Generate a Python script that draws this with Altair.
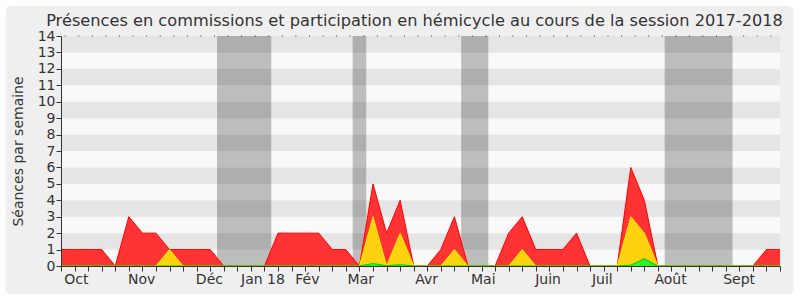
import altair as alt
import pandas as pd

# ---- data -------------------------------------------------------------
weeks = list(range(54))
red = [1, 1, 1, 1, 0, 3, 2, 2, 1, 1, 1, 1, 0, 0, 0, 0, 2, 2, 2, 2, 1, 1, 0, 5, 2, 4, 0,
       0, 1, 3, 0, 0, 0, 2, 3, 1, 1, 1, 2, 0, 0, 0, 6, 4, 0, 0, 0, 0, 0, 0, 0, 0, 1, 1]
yellow = [0, 0, 0, 0, 0, 0, 0, 0, 1, 0, 0, 0, 0, 0, 0, 0, 0, 0, 0, 0, 0, 0, 0, 3, 0, 2, 0,
          0, 0, 1, 0, 0, 0, 0, 1, 0, 0, 0, 0, 0, 0, 0, 3, 2, 0, 0, 0, 0, 0, 0, 0, 0, 0, 0]
green = [0, 0, 0, 0, 0, 0, 0, 0, 0, 0, 0, 0, 0, 0, 0, 0, 0, 0, 0, 0, 0, 0, 0, 0.15, 0.02, 0.08, 0,
         0, 0, 0, 0, 0, 0, 0, 0, 0, 0, 0, 0, 0, 0, 0, 0.05, 0.45, 0, 0, 0, 0, 0, 0, 0, 0, 0, 0]

vac_start = [11.5, 21.5, 29.5, 44.5]
vac_end = [15.5, 22.5, 31.5, 49.5]

month_labels = ["Oct", "Nov", "Déc", "Jan 18", "Fév", "Mar", "Avr", "Mai", "Juin", "Juil", "Août", "Sept"]
month_pos = [1.13, 5.95, 10.94, 14.89, 18.16, 22.1, 26.95, 31.13, 35.9, 39.9, 44.93, 49.99]

y_ticks = list(range(15))

TITLE = "Présences en commissions et participation en hémicycle au cours de la session 2017-2018"
FONT = "DejaVu Sans"

# ---- tables -----------------------------------------------------------
df = pd.DataFrame({"week": weeks, "red": red, "yellow": yellow, "green": green})
bands = pd.DataFrame({"lo": y_ticks[:-1], "hi": y_ticks[1:],
                      "shade": ["a" if k % 2 == 0 else "b" for k in y_ticks[:-1]]})
vac = pd.DataFrame({"s": vac_start, "e": vac_end})
months = pd.DataFrame({"label": month_labels, "pos": month_pos})
top = pd.DataFrame({"y": [14], "title": [TITLE]})

W, H = 719, 230
L, T = 61, 36
xs = alt.Scale(domain=[0, 53], nice=False, zero=False)
ys = alt.Scale(domain=[0, 14], nice=False)

YAX = alt.Axis(values=y_ticks, title="Séances par semaine", grid=False,
               labelOverlap=False, labelFontSize=14, labelColor="#333",
               labelFont=FONT, labelPadding=1,
               titleFontSize=14, titleColor="#333", titleFont=FONT,
               titleFontWeight="normal", titlePadding=12,
               tickSize=5, tickColor="#333", domainColor="#333", zindex=2)
XAX = alt.Axis(values=weeks, labels=False, title=None, grid=False,
               labelOverlap=False, tickSize=5, tickColor="#333",
               domainColor="#333", zindex=2)

# decorative rounded frame around the whole figure
frame = alt.Chart(top).mark_rect(
    fill="#efefef", stroke="#ffffff", strokeWidth=1.5, cornerRadius=6
).encode(
    x=alt.value(5 - L), x2=alt.value(794 - L),
    y=alt.value(5 - T), y2=alt.value(295 - T),
)

title_layer = alt.Chart(top).mark_text(
    fontSize=16.2, font=FONT, color="#333", align="center", baseline="alphabetic"
).encode(
    x=alt.value(W / 2 - 6), y=alt.value(-10), text="title:N",
)

band_layer = alt.Chart(bands).mark_rect().encode(
    x=alt.value(0), x2=alt.value(W),
    y=alt.Y("lo:Q", scale=ys, axis=YAX),
    y2="hi:Q",
    color=alt.Color("shade:N", scale=alt.Scale(domain=["a", "b"], range=["#f9f9f9", "#e5e5e5"]),
                    legend=None),
)

vac_layer = alt.Chart(vac).mark_rect(color="#000000", opacity=0.24).encode(
    x=alt.X("s:Q", scale=xs, axis=XAX),
    x2="e:Q",
    y=alt.value(0), y2=alt.value(H),
)

def area(col, fill, stroke):
    return alt.Chart(df).mark_area(color=fill, line={"color": stroke, "strokeWidth": 1},
                                   opacity=1).encode(
        x=alt.X("week:Q", scale=xs, axis=XAX),
        y=alt.Y(f"{col}:Q", scale=ys, axis=YAX),
    )

red_layer = area("red", "#ff3333", "#ff0000")
yel_layer = area("yellow", "#ffd20f", "#ffee00")
grn_layer = area("green", "#33ee33", "#00cc00")

top_dots = alt.Chart(top).mark_rule(color="#333333", strokeWidth=1, strokeDash=[1, 12.57],
                                    strokeDashOffset=-3.7).encode(
    x=alt.value(0), x2=alt.value(W),
    y=alt.Y("y:Q", scale=ys, axis=YAX),
)

month_layer = alt.Chart(months).mark_text(
    fontSize=14, font=FONT, color="#333", baseline="alphabetic", align="center"
).encode(
    x=alt.X("pos:Q", scale=xs, axis=XAX),
    y=alt.value(H + 18),
    text="label:N",
)

chart = alt.layer(
    frame, title_layer, band_layer, vac_layer, red_layer, yel_layer, grn_layer,
    top_dots, month_layer
).properties(
    width=W, height=H,
    autosize=alt.AutoSizeParams(type="none"),
    padding={"left": L, "top": T, "right": 20, "bottom": 34},
    background="#ffffff",
).configure_view(stroke=None)

chart.save("out.html", embed_options={"renderer": "svg", "actions": False})
